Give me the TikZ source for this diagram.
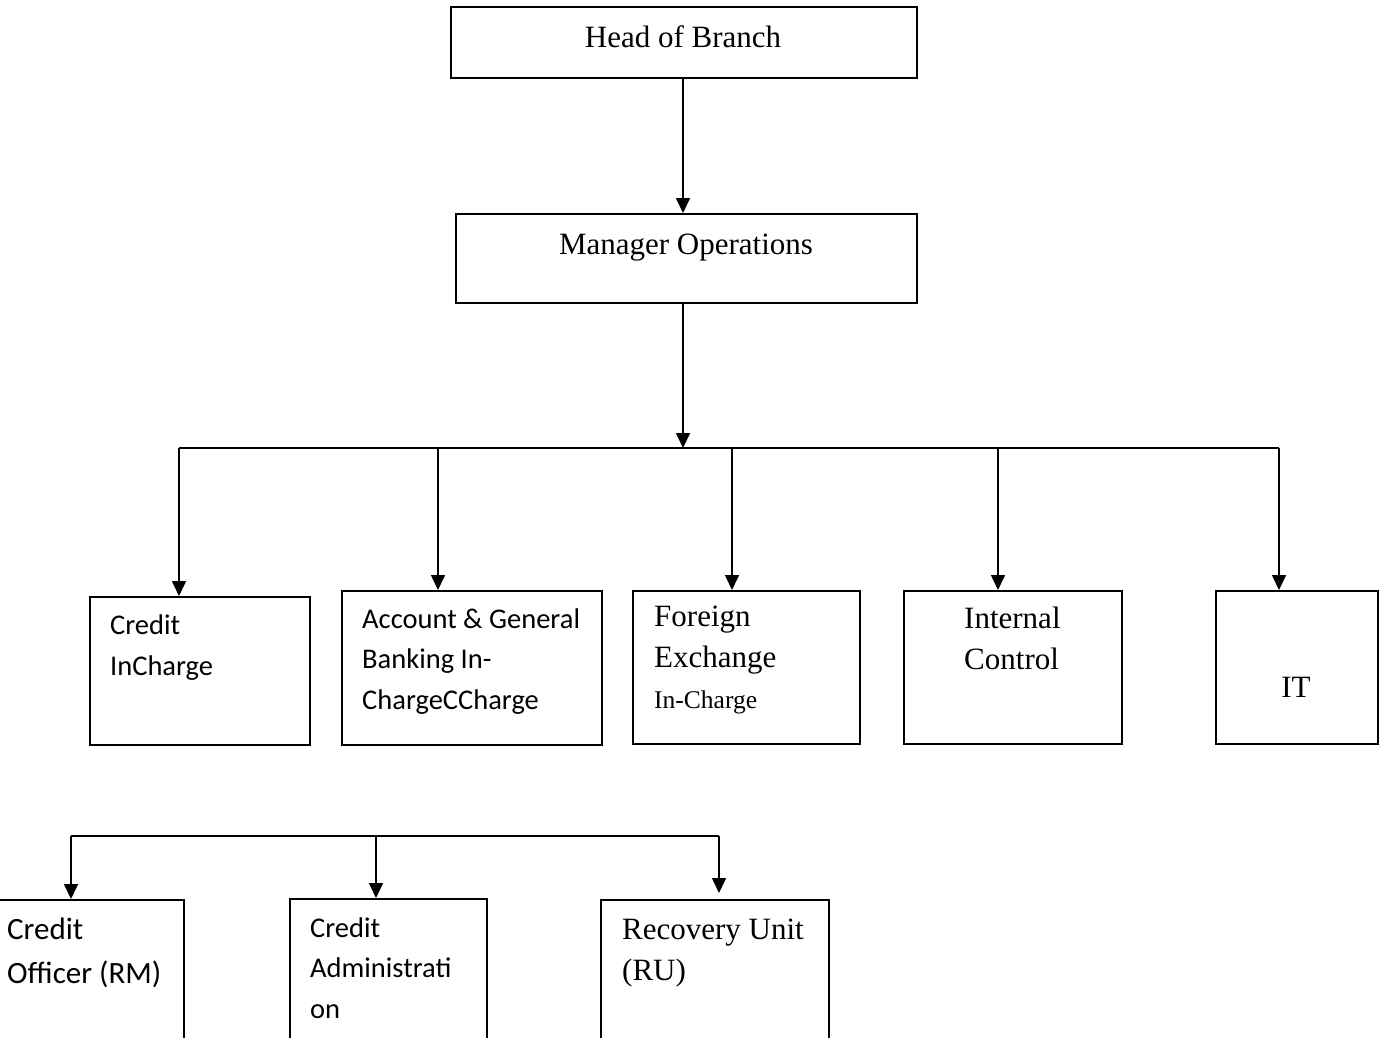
\documentclass[tikz,border=0pt]{standalone}
\usepackage{fontspec}
\setmainfont{Liberation Serif}
\newfontfamily\calibri{Carlito}
\usetikzlibrary{arrows.meta,positioning}

\begin{document}
\begin{tikzpicture}[x=1pt,y=-1pt,
  box/.style={draw,line width=1.9pt,inner sep=0pt,anchor=north west},
  serif/.style={font=\fontsize{31}{41}\selectfont,inner sep=0pt,align=left},
  sans/.style={font=\calibri\fontsize{28.5}{40.5}\selectfont,inner sep=0pt,align=left},
  wire/.style={line width=1.6pt},
  link/.style={line width=1.6pt,-{Triangle[width=14pt,length=15pt]}},
]
  \useasboundingbox (0,0) rectangle (1390,1037);
  \clip (0,0) rectangle (1390,1037);

  % top of the chart
  \node[box,minimum width=466pt,minimum height=71pt] (head) at (450,6) {};
  \node[serif,anchor=base] (headtxt) at (683,47) {Head of Branch};
  \node[box,minimum width=461pt,minimum height=89pt] (mgr) at (455,213) {};
  \node[serif,anchor=base] (mgrtxt) at (686,254) {Manager Operations};

  % second row (text placed by the baseline of its last line)
  \node[box,minimum width=220pt,minimum height=148pt] (credit) at (89,596) {};
  \node[box,minimum width=260pt,minimum height=154pt] (acct) at (341,590) {};
  \node[box,minimum width=227pt,minimum height=153pt] (forex) at (632,590) {};
  \node[box,minimum width=218pt,minimum height=153pt] (intctl) at (903,590) {};
  \node[box,minimum width=162pt,minimum height=153pt] (it) at (1215,590) {};

  \node[sans,anchor=base west] (credittxt) at (110,675) {Credit\\InCharge};
  \node[sans,anchor=base west] (accttxt) at (362,709) {Account \& General\\Banking In-\\ChargeCCharge};
  \node[serif,anchor=base west] (forextxt) at (654,708)
    {Foreign\\Exchange\\{\fontsize{25.5}{30}\selectfont In-Charge}};
  \node[serif,anchor=base west] (intctltxt) at (964,669) {Internal\\Control};
  \node[serif,anchor=base] (ittxt) at (1296,697) {IT};

  % third row
  \node[box,minimum width=188pt,minimum height=200pt] (officer) at (-5,899) {};
  \node[box,minimum width=197pt,minimum height=200pt] (admin) at (289,898) {};
  \node[box,minimum width=228pt,minimum height=200pt] (recov) at (600,899) {};

  \node[sans,anchor=base west,font=\calibri\fontsize{31}{44}\selectfont] (officertxt) at (7,983) {Credit\\Officer (RM)};
  \node[sans,anchor=base west] (admintxt) at (310,1018) {Credit\\Administrati\\on};
  \node[serif,anchor=base west] (recovtxt) at (622,980) {Recovery Unit\\(RU)};

  % connectors
  \coordinate (bus) at (683,448);
  \coordinate (b1) at (179,448);
  \coordinate (b2) at (438,448);
  \coordinate (b3) at (732,448);
  \coordinate (b4) at (998,448);
  \coordinate (b5) at (1279,448);
  \draw[link] (head.south -| bus) -- (mgr.north -| bus);
  \draw[link] (mgr.south -| bus) -- (bus);
  \draw[wire] (b1) -- (b5);
  \draw[link] (b1) -- (b1 |- credit.north);
  \draw[link] (b2) -- (b2 |- acct.north);
  \draw[link] (b3) -- (b3 |- forex.north);
  \draw[link] (b4) -- (b4 |- intctl.north);
  \draw[link] (b5) -- (b5 |- it.north);

  \coordinate (c1) at (71,836);
  \coordinate (c2) at (376,836);
  \coordinate (c3) at (719,836);
  \draw[wire] (c1) -- (c3);
  \draw[link] (c1) -- (c1 |- officer.north);
  \draw[link] (c2) -- (c2 |- admin.north);
  \draw[link] (c3) -- ([yshift=6pt]c3 |- recov.north);
\end{tikzpicture}
\end{document}
